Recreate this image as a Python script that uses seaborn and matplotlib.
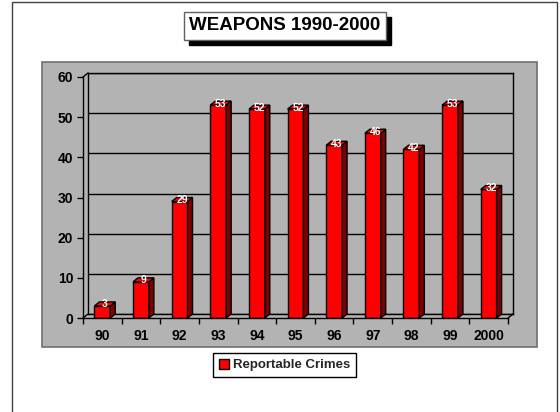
import matplotlib
matplotlib.use("Agg")
import matplotlib.pyplot as plt
import seaborn as sns
import pandas as pd
from matplotlib.patches import Rectangle, Polygon

# data
years = ["90", "91", "92", "93", "94", "95", "96", "97", "98", "99", "2000"]
crimes = [3, 9, 29, 53, 52, 52, 43, 46, 42, 53, 32]
series_name = "Reportable Crimes"
title = "WEAPONS 1990-2000"

W, H = 560, 412
GRAY = "#b3b3b3"
FONT = ["Liberation Sans", "DejaVu Sans"]

sns.set_theme(style="white")
plt.rcParams["font.family"] = FONT


def fx(px):
    return px / W


def fy(py):
    return 1 - py / H


df = pd.DataFrame({"year": years, "crimes": crimes})

fig = plt.figure(figsize=(W / 100, H / 100), dpi=100)
fig.patch.set_facecolor("white")

# outer frame and grey chart panel (behind the axes)
fig.add_artist(Rectangle((fx(12), fy(420)), fx(557 - 12), (420 - 2) / H, zorder=-2,
                         transform=fig.transFigure, fill=False, edgecolor="#404040", lw=1))
fig.add_artist(Rectangle((fx(42), fy(347)), fx(537 - 42), (347 - 62) / H, zorder=-1,
                         transform=fig.transFigure, facecolor=GRAY, edgecolor="#707070", lw=1.2))

# 3d depth in pixels
dpx, dpy = 5, 4
left, right, bot, top = 83, 508, 318, 77

# back wall with gridlines
back = fig.add_axes([fx(left + dpx), fy(bot - dpy), fx(right - left), (bot - top) / H])
back.set_facecolor(GRAY)
back.set_xlim(-0.5, 10.5)
back.set_ylim(0, 60)
back.set_yticks(range(0, 61, 10))
back.set_xticks([])
back.tick_params(left=False, labelleft=False)
back.grid(axis="y", color="black", lw=1)
for s in back.spines.values():
    s.set_color("black")
    s.set_linewidth(1)

# front axes with the bars
ax = fig.add_axes([fx(left), fy(bot), fx(right - left), (bot - top) / H])
ax.patch.set_alpha(0)
sns.barplot(data=df, x="year", y="crimes", color="#ff0000", saturation=1,
            width=0.41, edgecolor="black", linewidth=1, label=series_name, ax=ax)
ax.set_xlim(-0.5, 10.5)
ax.set_ylim(0, 60)
ax.set_xlabel("")
ax.set_ylabel("")
ax.set_yticks(range(0, 61, 10))
ax.set_xticks(range(len(years)))
ax.set_xticks([i - 0.5 for i in range(len(years) + 1)], minor=True)
ax.tick_params(axis="x", which="major", length=0, pad=8)
ax.tick_params(axis="x", which="minor", direction="out", length=4, width=1, color="black", bottom=True)
ax.tick_params(axis="y", direction="out", length=4, width=1, color="black", left=True, pad=3)
for lab in ax.get_xticklabels() + ax.get_yticklabels():
    lab.set_fontsize(10)
    lab.set_fontweight("bold")
    lab.set_color("black")
for side in ["top", "right"]:
    ax.spines[side].set_visible(False)
for side in ["left", "bottom"]:
    ax.spines[side].set_color("black")
    ax.spines[side].set_linewidth(1)

# pixel depth in data units
ddx = dpx * 11 / (right - left)
ddy = dpy * 60 / (bot - top)

# connectors of floor and wall
ax.plot([-0.5, -0.5 + ddx], [60, 60 + ddy], color="black", lw=1, clip_on=False)
ax.plot([-0.5, -0.5 + ddx], [0, ddy], color="black", lw=1, clip_on=False)
ax.plot([10.5, 10.5 + ddx], [0, ddy], color="black", lw=1, clip_on=False)

# 3d sides and tops of the bars
for p, v in zip(list(ax.patches), crimes):
    x0, w, h = p.get_x(), p.get_width(), p.get_height()
    side = Polygon([(x0 + w, 0), (x0 + w, h), (x0 + w + ddx, h + ddy), (x0 + w + ddx, ddy)],
                   facecolor="#800000", edgecolor="black", lw=1, zorder=3, clip_on=False)
    topf = Polygon([(x0, h), (x0 + w, h), (x0 + w + ddx, h + ddy), (x0 + ddx, h + ddy)],
                   facecolor="#ff0000", edgecolor="black", lw=1, zorder=3, clip_on=False)
    ax.add_patch(side)
    ax.add_patch(topf)
    ax.text(x0 + w / 2 + ddx / 2, h + ddy * 0.4, str(v), ha="center", va="center",
            color="white", fontsize=7.5, fontweight="bold", zorder=5)

# title with drop shadow
t = fig.text(fx(285), fy(26), title, ha="center", va="center", fontsize=13.5, fontweight="bold",
             color="black", zorder=3,
             bbox=dict(boxstyle="square,pad=0.28", facecolor="white", edgecolor="#606060", lw=1))
fig.canvas.draw()
bb = t.get_bbox_patch().get_window_extent().transformed(fig.transFigure.inverted())
fig.add_artist(Rectangle((bb.x0 + fx(5), bb.y0 - 5 / H), bb.width, bb.height, zorder=2,
                         transform=fig.transFigure, facecolor="black", edgecolor="black"))

leg = ax.legend(loc="center", bbox_to_anchor=(fx(284.5), fy(365)), bbox_transform=fig.transFigure,
                frameon=True, fancybox=False, edgecolor="black", framealpha=1,
                borderpad=0.4, handlelength=0.8, handleheight=0.8, handletextpad=0.3,
                prop=dict(family=FONT, weight="bold", size=9.5))
leg.get_frame().set_linewidth(1)

fig.savefig("out.png", dpi=100)
